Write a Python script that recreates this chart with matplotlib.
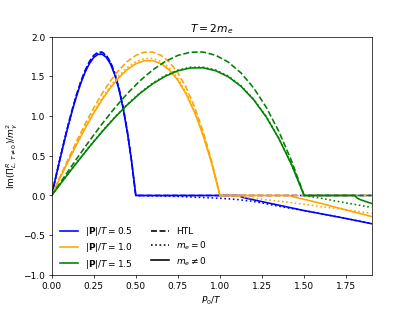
import numpy as np
import matplotlib; matplotlib.use("Agg"); import matplotlib.pyplot as plt
from matplotlib.lines import Line2D
plt.rcParams["lines.linewidth"]=1.8

# momenta |P|/T and line colours
p_vals=[0.5,1.0,1.5]
cols=["blue","orange","green"]
# spacelike region sampled at x = P0/|P| = 0, 0.05, ..., 1
x_grid=np.linspace(0,1,21)
htl_space=[0,0.234,0.465,0.689,0.902,1.102,1.283,1.444,1.579,1.687,1.763,1.803,1.805,1.764,1.678,1.542,1.354,1.109,0.804,0.435,0]
solid_space=[
 [0,0.231,0.458,0.679,0.889,1.085,1.264,1.422,1.556,1.661,1.736,1.776,1.778,1.738,1.653,1.519,1.333,1.092,0.792,0.429,0],
 [0,0.220,0.437,0.648,0.848,1.036,1.206,1.357,1.484,1.586,1.657,1.695,1.697,1.658,1.577,1.450,1.272,1.042,0.755,0.409,0],
 [0,0.209,0.414,0.613,0.803,0.980,1.142,1.285,1.405,1.501,1.569,1.605,1.606,1.570,1.493,1.373,1.205,0.987,0.715,0.387,0]]
dot_space=[
 [0,0.233,0.463,0.686,0.898,1.096,1.277,1.436,1.571,1.678,1.754,1.794,1.796,1.755,1.670,1.534,1.347,1.103,0.800,0.433,0],
 [0,0.224,0.444,0.658,0.862,1.052,1.225,1.379,1.508,1.611,1.683,1.722,1.724,1.685,1.602,1.473,1.293,1.059,0.768,0.416,0],
 [0,0.210,0.416,0.617,0.808,0.986,1.148,1.292,1.413,1.510,1.577,1.614,1.615,1.579,1.502,1.380,1.211,0.992,0.719,0.390,0]]
# timelike region (P0 > |P|)
dot_t_P0=[[0.5,0.75,1.0,1.1,1.2,1.3,1.4,1.5,1.6,1.75,1.9],
          [1.0,1.1,1.2,1.3,1.4,1.5,1.6,1.75,1.9],
          [1.5,1.6,1.7,1.8,1.9]]
dot_t_val=[[0,-0.012,-0.035,-0.05,-0.075,-0.115,-0.155,-0.19,-0.23,-0.29,-0.355],
           [0,-0.015,-0.035,-0.06,-0.085,-0.11,-0.14,-0.18,-0.225],
           [0,-0.035,-0.075,-0.112,-0.15]]
sol_t_P0=[[0.5,1.118,1.13,1.15,1.2,1.3,1.4,1.5,1.6,1.75,1.9],
          [1.0,1.414,1.43,1.45,1.5,1.6,1.7,1.8,1.9],
          [1.5,1.803,1.81,1.83,1.86,1.9]]
sol_t_val=[[0,0,-0.02,-0.032,-0.055,-0.1,-0.145,-0.19,-0.23,-0.29,-0.355],
           [0,0,-0.015,-0.025,-0.048,-0.1,-0.155,-0.21,-0.265],
           [0,0,-0.025,-0.05,-0.072,-0.1]]

fig,ax=plt.subplots(figsize=(6.4,4.8),dpi=64.5)
for i,(p,c) in enumerate(zip(p_vals,cols)):
    P0s=list(x_grid*p)
    ax.plot(P0s+[1.9],htl_space+[0],"--",color=c)
    ax.plot(P0s+dot_t_P0[i][1:],dot_space[i]+dot_t_val[i][1:],":",color=c)
    ax.plot(P0s+sol_t_P0[i][1:],solid_space[i]+sol_t_val[i][1:],"-",color=c)
ax.set_xlim(0,1.9); ax.set_ylim(-1,2)
ax.set_xlabel("$P_0/T$"); ax.set_ylabel(r"Im$(\Pi^R_{L,\,T\neq0})/m_\gamma^2$")
ax.set_title("$T = 2m_e$")
h=[Line2D([],[],color=c) for c in cols]+[Line2D([],[],color="k",ls=s) for s in ["--",":","-"]]
lab=[r"$|\mathbf{P}|/T = %.1f$"%p for p in p_vals]+["HTL","$m_e = 0$",r"$m_e \neq 0$"]
ax.legend(h,lab,loc="lower left",bbox_to_anchor=(0,-0.013),ncol=2,frameon=False,labelspacing=0.35)
fig.savefig("out.png")
